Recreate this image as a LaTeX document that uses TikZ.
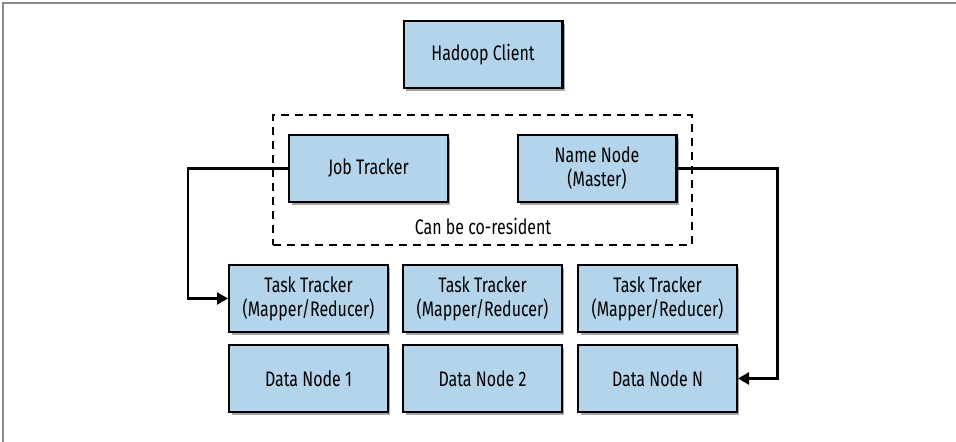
\documentclass[tikz,border=0pt]{standalone}
\usepackage{fontspec}
\setmainfont{Fira Sans}[FakeStretch=0.76]
\usetikzlibrary{shadows,arrows.meta}
\definecolor{boxblue}{HTML}{B3D4EA}
\definecolor{framegray}{HTML}{8A8A8A}
\tikzset{
  box/.style={draw=black, line width=2.4bp, fill=boxblue, minimum width=158.6bp, minimum height=66.6bp,
    inner sep=0pt, align=center, font=\fontsize{21bp}{24bp}\selectfont,
    drop shadow={shadow xshift=2.5bp, shadow yshift=-3bp, opacity=0.35, fill=black}},
  conn/.style={line width=2.2bp, -{Triangle[length=11bp,width=12bp]}},
  group/.style={draw=black, line width=2.4bp, dash pattern=on 8bp off 6bp},
  lbl/.style={font=\fontsize{21bp}{24bp}\selectfont, inner sep=0pt}
}
\begin{document}
\begin{tikzpicture}[x=1bp,y=-1bp]
\useasboundingbox (0,0) rectangle (956,442);
\fill[white] (0,0) rectangle (956,442);
\draw[framegray, line width=1.5bp] (3,442) -- (3,3) -- (956,3);

\node[group, minimum width=419bp, minimum height=130bp, inner sep=0pt] (grp) at (482.5,180) {};
\node[lbl] (co) at (483,226) {Can be co-resident};

\node[box] (hc) at (483,54.5) {Hadoop Client};
\node[box] (jt) at (368.5,168.5) {Job Tracker};
\node[box] (nn) at (597,168.5) {Name Node\\(Master)};

\node[box] (tt1) at (308.5,298.5) {Task Tracker\\(Mapper/Reducer)};
\node[box] (tt2) at (482.5,298.5) {Task Tracker\\(Mapper/Reducer)};
\node[box] (tt3) at (657.5,298.5) {Task Tracker\\(Mapper/Reducer)};

\node[box] (dn1) at (308.5,378.5) {Data Node 1};
\node[box] (dn2) at (482.5,378.5) {Data Node 2};
\node[box] (dnn) at (657.5,378.5) {Data Node N};

\draw[conn] (jt.west) -- ++(-100,0) |- (tt1.west);
\draw[conn] (nn.east) -- ++(100,0) |- (dnn.east);
\end{tikzpicture}
\end{document}
